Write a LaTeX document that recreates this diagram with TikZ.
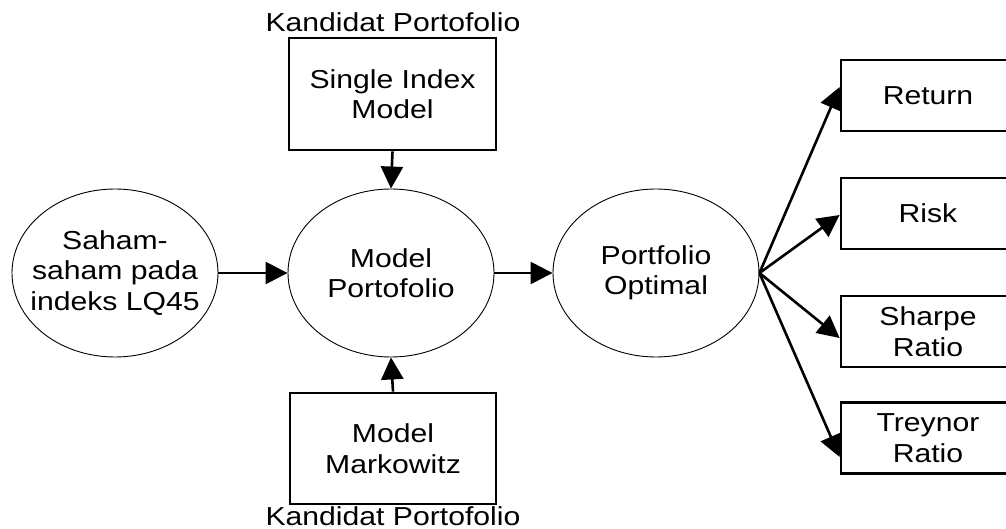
\documentclass[tikz,border=0pt]{standalone}
\usepackage{fontspec}
\setmainfont{Liberation Sans}[FakeStretch=1.16]
\usetikzlibrary{arrows.meta,shapes.geometric}
\begin{document}
\begin{tikzpicture}[x=1pt,y=-1pt,
  every node/.style={font=\fontsize{26}{30.5}\selectfont},
  box/.style={draw, line width=2.7pt, inner sep=0pt, align=center},
  rbox/.style={box, minimum width=174pt, minimum height=71pt},
  oval/.style={draw, ellipse, line width=0.9pt, minimum width=206pt, minimum height=168pt, inner xsep=-14pt, inner ysep=0pt, align=center},
  arr/.style={line width=2.6pt, -{Triangle[length=22pt,width=22pt]}}]
\useasboundingbox (0,0) rectangle (1006,529);
\node[box, minimum width=207pt, minimum height=112pt] (sim) at (392.5,94) {Single Index\\Model};
\node[box, minimum width=206pt, minimum height=111pt] (mm) at (393,448.5) {Model\\Markowitz};
\node[oval] (lq) at (115,273) {Saham-\\saham pada\\indeks LQ45};
\node[oval] (mp) at (391,273) {Model\\Portofolio};
\node[oval] (po) at (656,273) {Portfolio\\Optimal};
\node[rbox] (ret) at (928,95.5) {Return};
\node[rbox] (risk) at (928,213.5) {Risk};
\node[rbox] (sharpe) at (928,331.5) {Sharpe\\Ratio};
\node[rbox] (treynor) at (928,438) {Treynor\\Ratio};
\node[anchor=base, inner sep=0pt] (ktop) at (393,32) {Kandidat Portofolio};
\node[anchor=base, inner sep=0pt] (kbot) at (393,525) {Kandidat Portofolio};
\draw[arr] (sim.south) -- (mp.north);
\draw[arr] (mm.north) -- (mp.south);
\draw[arr] (lq.east) -- (mp.west);
\draw[arr] (mp.east) -- (po.west);
\draw[arr] (po.east) -- ([yshift=8.5pt]ret.west);
\draw[arr] (po.east) -- ([yshift=-1.5pt]risk.west);
\draw[arr] (po.east) -- ([yshift=-6.5pt]sharpe.west);
\draw[arr] (po.east) -- ([yshift=-19pt]treynor.west);
\end{tikzpicture}
\end{document}
